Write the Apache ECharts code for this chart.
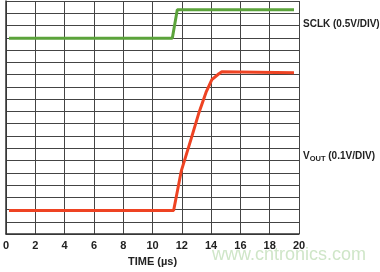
<!DOCTYPE html>
<html>
<head>
<meta charset="utf-8">
<script src="https://cdn.jsdelivr.net/npm/echarts@6/dist/echarts.min.js"></script>
<style>
html,body{margin:0;padding:0;background:#fff;}
#chart{width:380px;height:272px;}
</style>
</head>
<body>
<div id="chart"></div>
<script>
// time in µs, level in grid divisions (0 = bottom line)
var xTicks = [0, 2, 4, 6, 8, 10, 12, 14, 16, 18, 20];
var sclkData = [[0.2, 15.96], [11.35, 15.96], [11.69, 18.28], [19.66, 18.28]];
var voutData = [
    [0.2, 1.92], [11.44, 1.92], [11.96, 5.13], [12.64, 7.78], [13.18, 9.94],
    [13.65, 11.55], [14.05, 12.59], [14.53, 13.07], [14.73, 13.23], [14.8, 13.15],
    [19.66, 13.15]
];

var chart = echarts.init(document.getElementById('chart'));
var option = {
    animation: false,
    grid: {
        left: 3,
        right: 81,
        top: 1,
        bottom: 35
    },
    xAxis: {
        type: 'value',
        min: 0,
        max: 20,
        interval: 2,
        name: 'TIME (µs)',
        nameLocation: 'middle',
        nameGap: 21,
        nameTextStyle: {
            fontFamily: 'Liberation Sans',
            fontWeight: 'bold',
            fontSize: 11,
            color: '#222'
        },
        axisLine: { show: true, lineStyle: { color: '#333', width: 1.5 } },
        axisTick: { show: false },
        axisLabel: {
            margin: 6,
            fontFamily: 'Liberation Sans',
            fontWeight: 'bold',
            fontSize: 11,
            color: '#222',
            formatter: function (v) { return xTicks.indexOf(v) >= 0 ? String(v) : ''; }
        },
        splitLine: { show: true, lineStyle: { color: '#444', width: 1 } }
    },
    yAxis: {
        type: 'value',
        min: 0,
        max: 19,
        interval: 1,
        axisLine: { show: true, lineStyle: { color: '#333', width: 1.5 } },
        axisTick: { show: false },
        axisLabel: { show: false },
        splitLine: { show: true, lineStyle: { color: '#444', width: 1 } }
    },
    series: [
        {
            name: 'SCLK',
            type: 'line',
            data: sclkData,
            symbol: 'none',
            lineStyle: { color: '#5ba33b', width: 3 }
        },
        {
            name: 'VOUT',
            type: 'line',
            data: voutData,
            symbol: 'none',
            lineStyle: { color: '#ee4323', width: 3 }
        }
    ],
    graphic: [
        {
            type: 'text',
            left: 303,
            top: 19,
            style: {
                text: 'SCLK (0.5V/DIV)',
                fontFamily: 'Liberation Sans',
                fontWeight: 'bold',
                fontSize: 10,
                fill: '#222'
            }
        },
        {
            type: 'text',
            left: 303,
            top: 151,
            style: {
                text: '{v|V}{s|OUT}{v| (0.1V/DIV)}',
                rich: {
                    v: { fontFamily: 'Liberation Sans', fontWeight: 'bold', fontSize: 10, fill: '#222', verticalAlign: 'top' },
                    s: { fontFamily: 'Liberation Sans', fontWeight: 'bold', fontSize: 7.5, fill: '#222', verticalAlign: 'bottom', padding: [4, 0, 0, 0] }
                }
            }
        },
        {
            type: 'text',
            left: 212,
            top: 246,
            z: -1,
            style: {
                text: 'www.cntronics.com',
                fontFamily: 'Liberation Sans',
                fontSize: 18,
                fill: '#cfe6c8'
            }
        }
    ]
};
chart.setOption(option);
window.addEventListener('resize', function () {
    chart.resize();
});
</script>
</body>
</html>
